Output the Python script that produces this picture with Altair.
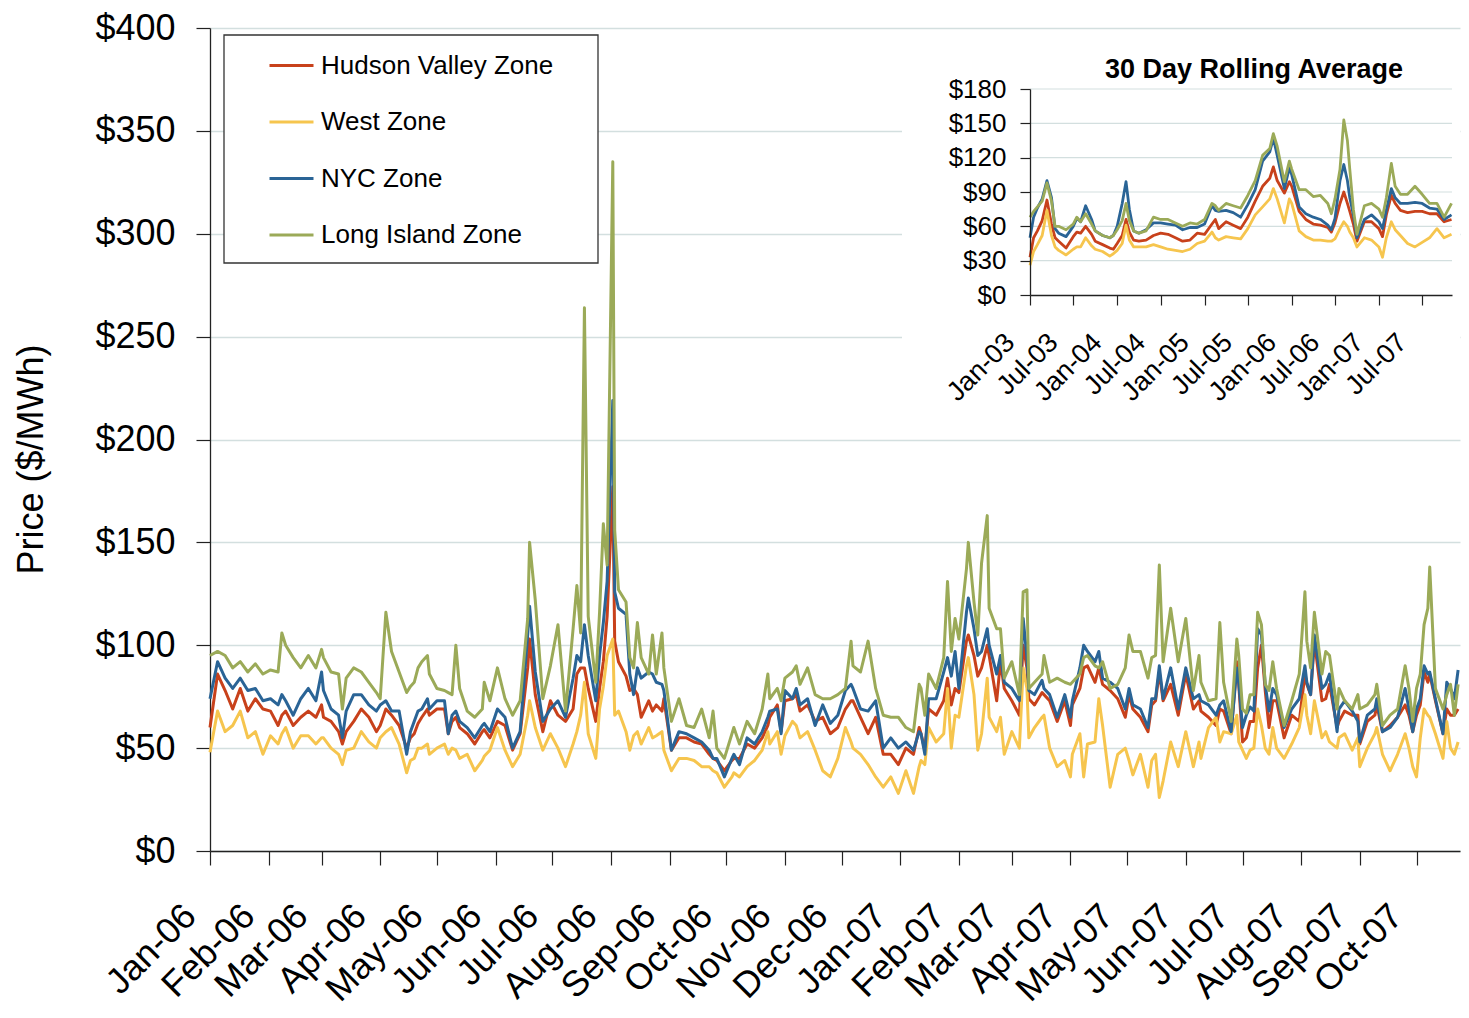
import altair as alt
import pandas as pd

FONT = "Liberation Sans"
SERIES = ["Hudson Valley Zone", "West Zone", "NYC Zone", "Long Island Zone"]
COLORS = ["#C8411B", "#F6C54E", "#2A6496", "#9BAA58"]
GRID = "#D3DFDF"

# ---- main chart: daily prices, day offsets from 2006-01-01 ----
DAYS = [0, 4, 8, 12, 16, 20, 24, 28, 32, 36,
        38, 40, 44, 48, 52, 56, 59, 60, 64, 68,
        70, 72, 76, 80, 84, 88, 90, 93, 96, 100,
        104, 106, 108, 110, 112, 115, 116, 120, 124, 126,
        128, 130, 132, 136, 140, 144, 145, 148, 152, 156,
        160, 164, 168, 169, 172, 176, 180, 184, 188, 192,
        194, 196, 198, 200, 204, 206, 208, 210, 213, 214,
        216, 220, 222, 224, 226, 228, 232, 234, 236, 239,
        240, 244, 248, 252, 256, 260, 264, 266, 268, 272,
        276, 277, 280, 284, 288, 292, 295, 296, 300, 302,
        304, 308, 310, 312, 316, 320, 324, 328, 332, 336,
        339, 340, 344, 348, 352, 356, 360, 364, 368, 372,
        375, 376, 378, 380, 384, 388, 390, 392, 394, 396,
        400, 401, 404, 406, 408, 411, 412, 416, 418, 420,
        424, 428, 430, 432, 433, 436, 440, 441, 444, 448,
        452, 455, 456, 460, 462, 464, 468, 470, 472, 476,
        480, 484, 486, 488, 492, 496, 498, 500, 502, 504,
        508, 512, 516, 520, 523, 524, 528, 532, 534, 536,
        540, 543, 544, 546, 548, 550, 552, 554, 556, 558,
        560, 562, 564, 568, 572, 576, 579, 580, 582, 584,
        588, 590, 592, 596, 597, 600, 604, 607, 608, 612,
        616, 617, 620, 624, 628, 632, 634, 636, 638, 640,
        642, 644, 645, 648, 652, 654, 656, 658, 660]

LONG_ISLAND = [95, 97, 95, 89, 92, 87, 91, 86, 88, 87,
               106, 100, 94, 89, 95, 89, 98, 94, 87, 86,
               69, 84, 89, 87, 82, 77, 74, 116, 97, 87,
               77, 80, 82, 89, 92, 95, 86, 79, 78, 77,
               76, 100, 79, 68, 65, 69, 82, 73, 89, 74,
               66, 73, 113, 150, 122, 74, 90, 110, 68, 108,
               129, 106, 264, 114, 82, 116, 159, 139, 335, 156,
               127, 121, 94, 89, 111, 94, 86, 105, 86, 106,
               89, 63, 74, 61, 60, 69, 55, 68, 50, 45,
               57, 60, 52, 63, 57, 69, 86, 74, 79, 73,
               84, 87, 90, 81, 89, 76, 74, 74, 76, 79,
               102, 90, 87, 102, 79, 66, 65, 65, 60, 58,
               81, 79, 66, 86, 79, 94, 131, 97, 113, 103,
               137, 150, 121, 105, 140, 163, 118, 108, 108, 84,
               92, 76, 126, 127, 79, 82, 86, 95, 82, 84,
               82, 81, 82, 86, 94, 95, 90, 89, 92, 79,
               81, 89, 105, 97, 97, 84, 94, 95, 139, 92,
               118, 92, 113, 78, 95, 82, 73, 74, 111, 82,
               63, 103, 95, 69, 67, 76, 76, 116, 110, 81,
               78, 92, 79, 61, 73, 86, 126, 102, 89, 116,
               86, 97, 95, 69, 79, 73, 69, 76, 69, 71,
               76, 81, 61, 66, 69, 90, 79, 63, 79, 86,
               110, 118, 138, 79, 69, 76, 81, 66, 81]

NYC = [74, 92, 84, 79, 84, 78, 79, 73, 74, 71,
       76, 73, 66, 74, 79, 73, 87, 78, 69, 66,
       55, 68, 76, 76, 71, 68, 71, 73, 68, 68,
       47, 58, 63, 68, 69, 74, 69, 73, 73, 57,
       66, 68, 63, 60, 55, 61, 62, 58, 69, 65,
       50, 58, 105, 119, 87, 63, 69, 73, 65, 84,
       95, 92, 110, 95, 73, 95, 111, 131, 219, 126,
       118, 115, 86, 76, 89, 84, 87, 86, 82, 81,
       78, 49, 58, 57, 55, 53, 49, 45, 45, 36,
       45, 47, 42, 55, 52, 58, 65, 68, 69, 57,
       78, 74, 79, 71, 74, 61, 71, 62, 66, 78,
       81, 79, 69, 68, 73, 50, 55, 50, 53, 49,
       58, 57, 47, 74, 74, 87, 94, 85, 97, 79,
       116, 123, 108, 95, 97, 108, 100, 86, 95, 82,
       79, 73, 113, 94, 78, 76, 83, 79, 76, 65,
       76, 65, 73, 89, 100, 97, 92, 97, 84, 82,
       79, 69, 79, 71, 69, 60, 74, 74, 90, 74,
       89, 69, 89, 74, 76, 73, 71, 66, 71, 73,
       58, 89, 82, 60, 66, 70, 68, 108, 105, 81,
       68, 79, 76, 60, 69, 74, 90, 82, 76, 105,
       79, 81, 86, 58, 69, 73, 68, 63, 53, 66,
       69, 74, 58, 60, 65, 79, 69, 58, 69, 74,
       90, 86, 87, 74, 57, 82, 79, 74, 88]

HUDSON = [60, 86, 78, 69, 79, 68, 74, 69, 68, 61,
          66, 68, 61, 65, 68, 65, 71, 65, 63, 58,
          52, 58, 63, 69, 65, 58, 61, 69, 66, 61,
          50, 55, 57, 62, 65, 69, 66, 69, 69, 57,
          63, 65, 60, 57, 52, 58, 59, 55, 63, 61,
          49, 57, 89, 103, 76, 58, 73, 66, 63, 69,
          86, 89, 89, 79, 63, 79, 92, 114, 177, 102,
          92, 85, 78, 79, 76, 65, 73, 68, 71, 68,
          74, 49, 55, 55, 53, 52, 47, 45, 44, 39,
          44, 45, 45, 52, 50, 55, 61, 65, 71, 58,
          73, 74, 76, 68, 71, 63, 65, 57, 60, 69,
          73, 73, 65, 57, 65, 47, 47, 42, 50, 47,
          60, 57, 49, 69, 66, 73, 84, 71, 79, 77,
          102, 105, 95, 85, 89, 100, 95, 73, 92, 79,
          73, 66, 100, 89, 74, 71, 77, 76, 73, 63,
          73, 61, 71, 79, 89, 90, 82, 89, 81, 78,
          74, 65, 76, 69, 65, 58, 71, 73, 87, 73,
          81, 66, 86, 69, 73, 68, 65, 61, 69, 68,
          57, 92, 81, 53, 55, 63, 63, 89, 100, 78,
          60, 73, 73, 55, 66, 63, 86, 81, 76, 102,
          73, 74, 81, 60, 63, 68, 66, 66, 52, 63,
          66, 71, 58, 61, 65, 71, 66, 58, 66, 71,
          87, 82, 86, 73, 57, 69, 66, 66, 69]

WEST = [48, 68, 58, 61, 68, 55, 58, 47, 56, 52,
        57, 60, 50, 56, 56, 52, 55, 55, 50, 47,
        42, 49, 50, 58, 53, 50, 55, 58, 60, 52,
        38, 44, 45, 50, 50, 52, 47, 50, 52, 47,
        50, 49, 45, 47, 39, 44, 46, 49, 60, 49,
        41, 47, 66, 73, 60, 49, 57, 50, 41, 52,
        58, 66, 82, 57, 45, 69, 80, 95, 103, 66,
        68, 58, 49, 56, 58, 52, 60, 55, 56, 58,
        49, 39, 45, 45, 44, 41, 41, 39, 38, 31,
        36, 38, 36, 41, 44, 49, 58, 52, 58, 47,
        56, 63, 61, 55, 58, 49, 39, 36, 45, 60,
        53, 50, 47, 42, 36, 31, 36, 28, 39, 28,
        41, 44, 42, 60, 53, 57, 79, 50, 66, 65,
        90, 94, 76, 49, 57, 84, 65, 58, 65, 47,
        58, 50, 89, 79, 55, 60, 65, 66, 50, 41,
        44, 36, 47, 57, 36, 52, 53, 74, 61, 31,
        47, 50, 44, 37, 47, 31, 44, 47, 26, 34,
        53, 41, 58, 41, 53, 45, 60, 65, 53, 58,
        57, 66, 53, 49, 45, 49, 50, 69, 61, 50,
        47, 60, 50, 45, 52, 60, 76, 66, 57, 73,
        55, 58, 53, 50, 55, 57, 49, 55, 41, 50,
        57, 60, 47, 39, 47, 57, 50, 41, 36, 55,
        69, 66, 65, 57, 45, 63, 50, 47, 53]

MAIN_TICK_MONTHS = ["2006-01", "2006-02", "2006-03", "2006-04", "2006-05", "2006-06",
                    "2006-07", "2006-08", "2006-09", "2006-10", "2006-11", "2006-12",
                    "2007-01", "2007-02", "2007-03", "2007-04", "2007-05", "2007-06",
                    "2007-07", "2007-08", "2007-09", "2007-10"]
MAIN_Y_TICKS = [0, 50, 100, 150, 200, 250, 300, 350, 400]

# ---- inset: 30 day rolling average ----
INSET_DATES = ["2003-01-01", "2003-01-16", "2003-02-01", "2003-02-21", "2003-03-13",
               "2003-04-01", "2003-04-16", "2003-05-01", "2003-06-01", "2003-07-01",
               "2003-07-16", "2003-08-01", "2003-08-22", "2003-09-16", "2003-10-01",
               "2003-11-01", "2003-12-01", "2003-12-16", "2004-01-01", "2004-01-22",
               "2004-02-07", "2004-02-21", "2004-03-10", "2004-04-01", "2004-05-01",
               "2004-06-01", "2004-07-01", "2004-08-01", "2004-09-01", "2004-10-01",
               "2004-11-01", "2004-12-01", "2005-01-01", "2005-02-01", "2005-02-15",
               "2005-03-01", "2005-04-01", "2005-05-01", "2005-06-01", "2005-07-01",
               "2005-08-01", "2005-09-01", "2005-10-01", "2005-10-16", "2005-11-01",
               "2005-12-01", "2005-12-22", "2006-01-01", "2006-02-01", "2006-03-01",
               "2006-04-01", "2006-05-01", "2006-06-01", "2006-06-16", "2006-07-01",
               "2006-07-22", "2006-08-07", "2006-08-22", "2006-09-01", "2006-09-16",
               "2006-10-01", "2006-11-01", "2006-12-01", "2007-01-01", "2007-01-16",
               "2007-02-01", "2007-02-22", "2007-03-10", "2007-04-01", "2007-05-01",
               "2007-06-01", "2007-07-01", "2007-08-01", "2007-09-01", "2007-10-01",
               "2007-11-01"]
INSET_LONG_ISLAND = [68, 73, 77, 82, 98, 82, 60, 60, 57, 62,
                     68, 64, 71, 62, 56, 52, 50, 52, 57, 65,
                     80, 65, 56, 54, 56, 68, 66, 66, 63, 60,
                     63, 62, 66, 80, 78, 74, 80, 78, 76, 87,
                     100, 122, 128, 141, 130, 99, 117, 110, 92, 92,
                     86, 87, 80, 71, 84, 110, 153, 135, 110, 75,
                     53, 78, 80, 75, 68, 85, 115, 95, 88, 88,
                     95, 88, 80, 80, 68, 80]
INSET_NYC = [50, 68, 76, 84, 100, 85, 58, 54, 51, 60,
             67, 64, 78, 66, 56, 52, 50, 52, 60, 80,
             99, 75, 56, 54, 57, 63, 63, 62, 61, 57,
             59, 59, 62, 78, 74, 73, 74, 72, 68, 79,
             92, 117, 125, 137, 122, 93, 111, 105, 77, 71,
             68, 66, 61, 57, 67, 100, 114, 100, 85, 70,
             50, 66, 70, 64, 58, 74, 93, 85, 80, 80,
             81, 80, 76, 75, 66, 70]
INSET_HUDSON = [33, 50, 56, 65, 83, 62, 50, 47, 41, 51,
                55, 54, 60, 53, 47, 44, 41, 40, 45, 52,
                66, 55, 48, 47, 48, 52, 54, 53, 50, 47,
                48, 54, 53, 62, 66, 58, 64, 61, 58, 68,
                82, 95, 102, 112, 100, 89, 99, 95, 73, 66,
                62, 61, 59, 55, 63, 80, 90, 80, 73, 62,
                47, 64, 64, 58, 51, 70, 87, 80, 74, 72,
                73, 73, 71, 71, 64, 66]
INSET_WEST = [26, 38, 44, 52, 74, 52, 42, 39, 35, 40,
              42, 42, 50, 43, 40, 38, 34, 36, 39, 45,
              61, 48, 42, 42, 42, 44, 42, 40, 39, 38,
              40, 45, 47, 55, 50, 48, 51, 50, 49, 58,
              70, 77, 84, 93, 84, 63, 84, 80, 56, 51,
              48, 48, 47, 47, 49, 58, 64, 60, 55, 50,
              42, 50, 48, 42, 33, 50, 64, 57, 52, 45,
              42, 46, 50, 58, 50, 53]
INSET_TICK_MONTHS = ["2003-01", "2003-07", "2004-01", "2004-07", "2005-01",
                     "2005-07", "2006-01", "2006-07", "2007-01", "2007-07"]
INSET_Y_TICKS = [0, 30, 60, 90, 120, 150, 180]
INSET_TITLE = "30 Day Rolling Average"


def dt(s, day=1):
    return alt.DateTime(year=int(s[:4]), month=int(s[5:7]), date=day)


start = pd.Timestamp("2006-01-01")
rows = []
for name, vals in zip(SERIES, [HUDSON, WEST, NYC, LONG_ISLAND]):
    assert len(vals) == len(DAYS), name
    for d, v in zip(DAYS, vals):
        rows.append({"date": (start + pd.Timedelta(days=d)).strftime("%Y-%m-%dT00:00:00"),
                     "price": v, "zone": name})
main_df = pd.DataFrame(rows)

irows = []
for name, vals in zip(SERIES, [INSET_HUDSON, INSET_WEST, INSET_NYC, INSET_LONG_ISLAND]):
    assert len(vals) == len(INSET_DATES), name
    for d, v in zip(INSET_DATES, vals):
        irows.append({"date": d + "T00:00:00", "price": v, "zone": name})
inset_df = pd.DataFrame(irows)

color = alt.Color(
    "zone:N",
    scale=alt.Scale(domain=SERIES, range=COLORS),
    legend=alt.Legend(title=None, orient="none", legendX=58, legendY=14, direction="vertical",
                      labelFontSize=26, labelFont=FONT, labelColor="black", symbolType="stroke",
                      symbolSize=1936, symbolStrokeWidth=3, labelOffset=6, rowPadding=19.5,
                      padding=0, labelLimit=400),
)

main_x = alt.X(
    "date:T", title=None,
    scale=alt.Scale(domain=[dt("2006-01"), dt("2007-10", 24)]),
    axis=alt.Axis(values=[dt(m) for m in MAIN_TICK_MONTHS], format="%b-%y", labelAngle=-45,
                  labelAlign="right", labelBaseline="middle", labelFontSize=36,
                  labelPadding=45, labelOffset=-20, tickSize=14, grid=False,
                  labelOverlap=False, labelFlush=False, labelBound=False,
                  domainWidth=1.3, tickWidth=1.2),
)
main_y = alt.Y(
    "price:Q", title="Price ($/MWh)",
    scale=alt.Scale(domain=[0, 400], nice=False),
    axis=alt.Axis(values=MAIN_Y_TICKS, format="$.0f", labelFontSize=36, tickSize=14,
                  labelPadding=21, grid=True, gridColor=GRID, gridWidth=1.3,
                  titleFontSize=36, titleFontWeight="normal", titleX=-179, titleY=431,
                  titleAngle=-90, titleAlign="center", titleBaseline="middle",
                  domainWidth=1.3, tickWidth=1.2, labelOverlap=False),
)

main_layers = [
    alt.Chart(main_df).transform_filter(alt.datum.zone == s)
    .mark_line(strokeWidth=3, strokeJoin="round")
    .encode(x=main_x, y=main_y, color=color)
    for s in SERIES
]

frame_df = pd.DataFrame({"k": [0]})
legend_box = alt.Chart(frame_df).mark_rect(fill="white", stroke="#333", strokeWidth=1.3).encode(
    x=alt.value(14), x2=alt.value(388), y=alt.value(7), y2=alt.value(235))

main_group = alt.layer(*main_layers, legend_box)

inset_x = alt.X(
    "date:T", title=None,
    scale=alt.Scale(domain=[dt("2003-01"), dt("2007-11", 3)], range=[820, 1242]),
    axis=alt.Axis(orient="bottom", offset=-556, values=[dt(m) for m in INSET_TICK_MONTHS],
                  format="%b-%y", labelAngle=-45, labelAlign="right", labelBaseline="middle",
                  labelFontSize=27, labelPadding=33, labelOffset=-20, tickSize=10, grid=False,
                  labelOverlap=False, labelFlush=False, labelBound=False, zindex=1,
                  domainWidth=1.3, tickWidth=1.2),
)
inset_y = alt.Y(
    "price:Q", title=None,
    scale=alt.Scale(domain=[0, 180], range=[267, 61], nice=False),
    axis=alt.Axis(orient="left", offset=-820, values=INSET_Y_TICKS, format="$.0f",
                  labelFontSize=26, tickSize=10, labelPadding=14, grid=False, zindex=1,
                  labelOverlap=False, domainWidth=1.3, tickWidth=1.2),
)

inset_bg = alt.Chart(frame_df).mark_rect(fill="white").encode(
    x=alt.value(692), x2=alt.value(1250), y=alt.value(2), y2=alt.value(392))
inset_grid = alt.Chart(pd.DataFrame({"price": INSET_Y_TICKS[1:]})).mark_rule(
    color=GRID, strokeWidth=1.2).encode(y=inset_y, x=alt.value(820), x2=alt.value(1242))
inset_layers = [
    alt.Chart(inset_df).transform_filter(alt.datum.zone == s)
    .mark_line(strokeWidth=2.8, strokeJoin="round")
    .encode(x=inset_x, y=inset_y, color=color)
    for s in SERIES
]
inset_title = alt.Chart(frame_df).mark_text(
    text=INSET_TITLE, font=FONT, fontSize=27, fontWeight="bold", color="black",
    align="center", baseline="middle").encode(x=alt.value(1044), y=alt.value(42))

inset_group = alt.layer(inset_bg, inset_grid, *inset_layers, inset_title)

chart = (
    alt.layer(main_group, inset_group)
    .resolve_scale(x="independent", y="independent")
    .properties(width=1250, height=823,
                autosize=alt.AutoSizeParams(type="none"),
                padding={"left": 202, "top": 20, "right": 1, "bottom": 159})
    .configure(background="white")
    .configure_view(stroke=None)
    .configure_axis(labelFont=FONT, titleFont=FONT, labelColor="black", titleColor="black",
                    domainColor="#222", tickColor="#222")
)

chart.save("out.html", embed_options={"renderer": "svg", "actions": False})
